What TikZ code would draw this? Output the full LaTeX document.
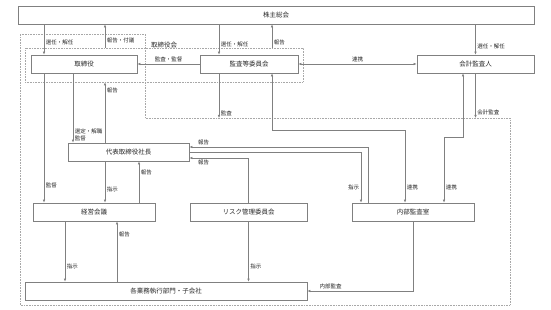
\documentclass[tikz,border=0pt]{standalone}
\usepackage{fontspec}
\setmainfont{Noto Sans CJK JP}
\usepackage{tikz}
\usetikzlibrary{arrows.meta}
\definecolor{orgline}{HTML}{808080}
\definecolor{orgdot}{HTML}{A8A8A8}
\definecolor{orgtext}{HTML}{262626}

\begin{document}
\begin{tikzpicture}[x=1pt, y=-1pt,
  orgbox/.style={draw=orgline, line width=0.7pt, minimum height=18pt, inner sep=1pt, font=\fontsize{6.5}{7}\selectfont, text=orgtext},
  dotbox/.style={draw=orgdot, line width=0.6pt, densely dotted, inner sep=0pt},
  arr/.style={draw=orgline, line width=0.6pt, -{Latex[length=3pt, width=2.6pt]}},
  twoway/.style={arr, {Latex[length=3pt, width=2.6pt]}-{Latex[length=3pt, width=2.6pt]}},
  lbl/.style={font=\fontsize{5.5}{6.3}\selectfont, text=orgtext, inner sep=1.5pt}]
  \useasboundingbox (0,0) rectangle (551,310);

  % boxes
  \node[orgbox, minimum width=516pt] (kabu) at (276,15) {株主総会};
  \node[dotbox, minimum width=278pt, minimum height=34pt] (board) at (164,65) {};
  \node[font=\fontsize{6.5}{7}\selectfont, text=orgtext, inner sep=0pt] (boardlbl) at (164,45) {取締役会};
  \node[orgbox, minimum width=106pt] (tori) at (84,64) {取締役};
  \node[orgbox, minimum width=98pt] (kansa) at (249,64) {監査等委員会};
  \node[orgbox, minimum width=117pt] (kaikei) at (475.5,64) {会計監査人};
  \node[orgbox, minimum width=121pt] (ceo) at (128.5,152) {代表取締役社長};
  \node[orgbox, minimum width=122pt] (keiei) at (94,212) {経営会議};
  \node[orgbox, minimum width=117pt] (risk) at (248.5,212) {リスク管理委員会};
  \node[orgbox, minimum width=122pt] (naibu) at (413,212) {内部監査室};
  \node[orgbox, minimum width=282pt] (bumon) at (166,291) {各業務執行部門・子会社};

  % outer dotted area
  \draw[orgdot, line width=0.6pt, densely dotted] (20,34) -- (145,34) -- (145,118) -- (510,118) -- (510,305) -- (20,305) -- cycle;
  \coordinate (auditend) at (219,118);
  \coordinate (acctend) at (475.5,118);

  % shareholders
  \draw[arr] (kabu.south -| 44,0) -- node[lbl, pos=0.61, right] {選任・解任} (tori.north -| 44,0);
  \draw[arr] (board.north -| 105,0) -- node[lbl, pos=0.29, right] {報告・付議} (kabu.south -| 105,0);
  \draw[arr] (kabu.south -| 219,0) -- node[lbl, pos=0.65, right] {選任・解任} (kansa.north -| 219,0);
  \draw[arr] (board.north -| 272,0) -- node[lbl, pos=0.21, right] {報告} (kabu.south -| 272,0);
  \draw[arr] (kabu.south -| kaikei.north) -- node[lbl, pos=0.74, right] {選任・解任} (kaikei.north);

  % board level
  \draw[arr] (kansa.west) -- node[lbl, midway, above] {監査・監督} (tori.east);
  \draw[twoway] (kansa.east) -- node[lbl, midway, above] {連携} (kaikei.west);
  \draw[arr] (kansa.south -| 219,0) -- node[lbl, pos=0.89, right] {監査} (auditend);
  \draw[arr] (kaikei.south) -- node[lbl, pos=0.87, right] {会計監査} (acctend);

  % management
  \draw[arr] (tori.south -| 44,0) -- node[lbl, pos=0.87, right] {監督} (keiei.north -| 44,0);
  \draw[arr] (tori.south -| 73,0) -- node[lbl, pos=0.89, right, align=left] {選定・解職\\監督} (ceo.north -| 73,0);
  \draw[arr] (ceo.north -| 105,0) -- node[lbl, pos=0.87, right] {報告} (board.south -| 105,0);
  \draw[arr] (ceo.south -| 105,0) -- node[lbl, pos=0.69, right] {指示} (keiei.north -| 105,0);
  \draw[arr] (keiei.north -| 139,0) -- node[lbl, pos=0.74, right] {報告} (ceo.south -| 139,0);
  \draw[arr] (keiei.south -| 65,0) -- node[lbl, pos=0.75, right] {指示} (bumon.north -| 65,0);
  \draw[arr] (bumon.north -| 117,0) -- node[lbl, pos=0.79, right] {報告} (keiei.south -| 117,0);
  \draw[arr] (risk.south) -- node[lbl, pos=0.75, right] {指示} (bumon.north -| risk.south);
  \draw[arr] (risk.north) |- node[lbl, pos=0.88, below] {報告} (ceo.east |- 0,158);

  % internal audit
  \draw[arr] (naibu.north -| 368,0) |- node[lbl, pos=0.96, above] {報告} (ceo.east |- 0,147);
  \draw[arr] (ceo.east) -| node[lbl, pos=0.85, left] {指示} (naibu.north -| 361,0);
  \draw[twoway] (kansa.south -| 272,0) |- (405,130) -- node[lbl, pos=0.79, right] {連携} (naibu.north -| 405,0);
  \draw[twoway] (kaikei.south -| 463,0) |- (444,137) -- node[lbl, pos=0.77, right] {連携} (naibu.north -| 444,0);
  \draw[arr] (naibu.south) |- node[lbl, pos=0.89, above] {内部監査} (bumon.east);
\end{tikzpicture}
\end{document}
